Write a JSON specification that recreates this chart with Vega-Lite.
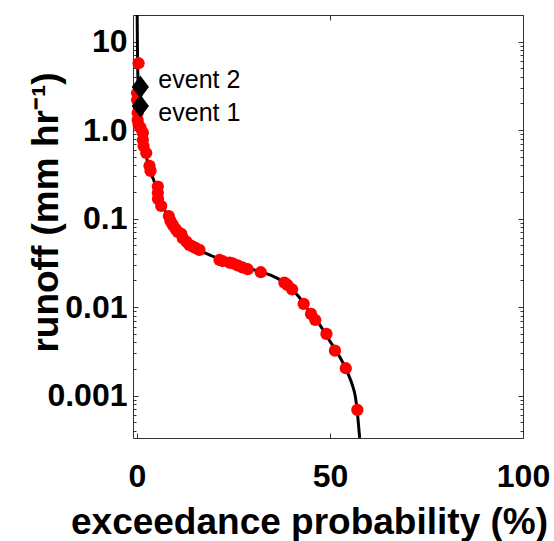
{
  "$schema": "https://vega.github.io/schema/vega-lite/v6.json",
  "autosize": "none",
  "width": 390,
  "height": 423,
  "padding": {"left": 133, "top": 15, "right": 31, "bottom": 103},
  "background": "white",
  "config": {
    "view": {"stroke": "#333", "strokeWidth": 1},
    "axis": {
      "domain": false, "grid": false,
      "labelFont": "Liberation Sans", "labelFontWeight": "bold", "labelFontSize": 32, "labelColor": "black",
      "titleFont": "Liberation Sans", "titleFontWeight": "bold", "titleFontSize": 37, "titleColor": "black",
      "tickColor": "#333", "tickWidth": 1
    }
  },
  "datasets": {
    "curve": [
      {"prob": 0.08, "runoff": 20},
      {"prob": 0.13, "runoff": 10.4},
      {"prob": 0.23, "runoff": 4.79},
      {"prob": 0.44, "runoff": 2.19},
      {"prob": 0.83, "runoff": 1.30},
      {"prob": 1.34, "runoff": 0.883},
      {"prob": 1.99, "runoff": 0.597},
      {"prob": 2.9, "runoff": 0.426},
      {"prob": 3.8, "runoff": 0.312},
      {"prob": 4.4, "runoff": 0.27},
      {"prob": 5.6, "runoff": 0.185},
      {"prob": 6.9, "runoff": 0.132},
      {"prob": 8.45, "runoff": 0.102},
      {"prob": 10.5, "runoff": 0.0745},
      {"prob": 13.1, "runoff": 0.056},
      {"prob": 16.2, "runoff": 0.0443},
      {"prob": 18.8, "runoff": 0.0389},
      {"prob": 22.7, "runoff": 0.0333},
      {"prob": 27.8, "runoff": 0.0284},
      {"prob": 32.2, "runoff": 0.0250},
      {"prob": 34.8, "runoff": 0.0228},
      {"prob": 36.9, "runoff": 0.0206},
      {"prob": 39.5, "runoff": 0.0169},
      {"prob": 42.0, "runoff": 0.0130},
      {"prob": 44.6, "runoff": 0.00906},
      {"prob": 47.2, "runoff": 0.00646},
      {"prob": 49.8, "runoff": 0.00426},
      {"prob": 52.4, "runoff": 0.00281},
      {"prob": 54.5, "runoff": 0.00185},
      {"prob": 55.8, "runoff": 0.00132},
      {"prob": 56.6, "runoff": 0.000966},
      {"prob": 57.1, "runoff": 0.000653},
      {"prob": 57.4, "runoff": 0.000467},
      {"prob": 57.7, "runoff": 0.000333}
    ],
    "obs": [
      {"prob": 0.44, "runoff": 5.70},
      {"prob": 0.05, "runoff": 2.63},
      {"prob": 0.05, "runoff": 2.19},
      {"prob": 0.2, "runoff": 1.56},
      {"prob": 0.2, "runoff": 1.30},
      {"prob": 0.44, "runoff": 1.15},
      {"prob": 0.96, "runoff": 1.06},
      {"prob": 1.55, "runoff": 0.93},
      {"prob": 1.55, "runoff": 0.774},
      {"prob": 1.73, "runoff": 0.662},
      {"prob": 2.43, "runoff": 0.552},
      {"prob": 3.28, "runoff": 0.394},
      {"prob": 3.54, "runoff": 0.346},
      {"prob": 5.43, "runoff": 0.230},
      {"prob": 5.43, "runoff": 0.195},
      {"prob": 5.48, "runoff": 0.167},
      {"prob": 6.3, "runoff": 0.139},
      {"prob": 8.27, "runoff": 0.107},
      {"prob": 8.7, "runoff": 0.0942},
      {"prob": 9.3, "runoff": 0.0849},
      {"prob": 10.0, "runoff": 0.0765},
      {"prob": 10.6, "runoff": 0.0708},
      {"prob": 11.5, "runoff": 0.0672},
      {"prob": 11.9, "runoff": 0.0601},
      {"prob": 12.8, "runoff": 0.0550},
      {"prob": 13.6, "runoff": 0.0505},
      {"prob": 14.5, "runoff": 0.0483},
      {"prob": 15.3, "runoff": 0.0463},
      {"prob": 16.2, "runoff": 0.0443},
      {"prob": 21.4, "runoff": 0.0341},
      {"prob": 22.2, "runoff": 0.0332},
      {"prob": 24.0, "runoff": 0.0318},
      {"prob": 24.8, "runoff": 0.0313},
      {"prob": 26.1, "runoff": 0.0296},
      {"prob": 27.3, "runoff": 0.0281},
      {"prob": 28.7, "runoff": 0.0268},
      {"prob": 32.1, "runoff": 0.0248},
      {"prob": 38.2, "runoff": 0.0189},
      {"prob": 39.0, "runoff": 0.0178},
      {"prob": 40.2, "runoff": 0.0159},
      {"prob": 43.2, "runoff": 0.0109},
      {"prob": 45.1, "runoff": 0.00838},
      {"prob": 46.2, "runoff": 0.00716},
      {"prob": 49.1, "runoff": 0.00498},
      {"prob": 51.3, "runoff": 0.00322},
      {"prob": 54.1, "runoff": 0.00204},
      {"prob": 57.1, "runoff": 0.000689}
    ],
    "events": [
      {"event": "event 2", "prob": 0.9, "runoff": 3.07},
      {"event": "event 1", "prob": 0.9, "runoff": 1.87}
    ]
  },
  "encoding": {
    "x": {"field": "prob", "type": "quantitative", "scale": {"domain": [-1, 100], "nice": false, "zero": false}},
    "y": {"field": "runoff", "type": "quantitative", "scale": {"type": "log", "domain": [0.000332, 20], "nice": false}}
  },
  "resolve": {"axis": {"x": "independent", "y": "independent"}},
  "layer": [
    {
      "data": {"name": "curve"},
      "mark": {"type": "line", "color": "black", "strokeWidth": 3, "interpolate": "monotone", "clip": true},
      "encoding": {
        "x": {"field": "prob", "type": "quantitative", "axis": {"orient": "bottom", "values": [0, 50, 100], "tickSize": -5, "labelPadding": 28, "labelFlush": false, "labelOverlap": false, "title": "exceedance probability (%)", "titleX": 176, "titleY": 95, "titleBaseline": "alphabetic", "titleAlign": "center"}},
        "y": {"field": "runoff", "type": "quantitative", "axis": {"orient": "left", "values": [0.001, 0.01, 0.1, 1, 10], "tickSize": -5, "labelPadding": 11, "labelOverlap": false, "labelFlush": false, "labelExpr": "datum.value > 5 ? '10' : datum.value > 0.5 ? '1.0' : datum.value > 0.05 ? '0.1' : datum.value > 0.005 ? '0.01' : '0.001'", "title": "runoff (mm hr⁻¹)", "titleX": -76, "titleY": 197, "titleAngle": -90, "titleBaseline": "alphabetic", "titleAlign": "center"}}
      }
    },
    {
      "data": {"name": "obs"},
      "mark": {"type": "point", "shape": "circle", "filled": true, "color": "#ff0000", "opacity": 1, "size": 150},
      "encoding": {
        "x": {"field": "prob", "type": "quantitative", "axis": {"orient": "top", "values": [0, 50, 100], "tickSize": -5, "labels": false, "title": null}},
        "y": {"field": "runoff", "type": "quantitative", "axis": {"orient": "left", "values": [0.0004, 0.0005, 0.0006, 0.0007, 0.0008, 0.0009, 0.002, 0.003, 0.004, 0.005, 0.006, 0.007, 0.008, 0.009, 0.02, 0.03, 0.04, 0.05, 0.06, 0.07, 0.08, 0.09, 0.2, 0.3, 0.4, 0.5, 0.6, 0.7, 0.8, 0.9, 2, 3, 4, 5, 6, 7, 8, 9, 20], "tickSize": -3, "labels": false, "title": null}}
      }
    },
    {
      "data": {"name": "events"},
      "mark": {"type": "point", "shape": "M-0.75,0L0,-1L0.75,0L0,1Z", "filled": true, "color": "black", "opacity": 1, "size": 530},
      "encoding": {
        "x": {"field": "prob", "type": "quantitative", "axis": null},
        "y": {"field": "runoff", "type": "quantitative", "axis": {"orient": "right", "values": [0.001, 0.01, 0.1, 1, 10], "tickSize": -5, "labels": false, "title": null}}
      }
    },
    {
      "data": {"name": "events"},
      "transform": [{"filter": "datum.event == 'event 2'"}],
      "mark": {"type": "text", "align": "left", "baseline": "middle", "dx": 18, "dy": -7, "font": "Liberation Sans", "fontSize": 25, "color": "black"},
      "encoding": {
        "x": {"field": "prob", "type": "quantitative", "axis": null},
        "y": {"field": "runoff", "type": "quantitative", "axis": {"orient": "right", "values": [0.0004, 0.0005, 0.0006, 0.0007, 0.0008, 0.0009, 0.002, 0.003, 0.004, 0.005, 0.006, 0.007, 0.008, 0.009, 0.02, 0.03, 0.04, 0.05, 0.06, 0.07, 0.08, 0.09, 0.2, 0.3, 0.4, 0.5, 0.6, 0.7, 0.8, 0.9, 2, 3, 4, 5, 6, 7, 8, 9, 20], "tickSize": -3, "labels": false, "title": null}},
        "text": {"field": "event"}
      }
    },
    {
      "data": {"name": "events"},
      "transform": [{"filter": "datum.event == 'event 1'"}],
      "mark": {"type": "text", "align": "left", "baseline": "middle", "dx": 18, "dy": 7, "font": "Liberation Sans", "fontSize": 25, "color": "black"},
      "encoding": {
        "x": {"field": "prob", "type": "quantitative", "axis": null},
        "y": {"field": "runoff", "type": "quantitative", "axis": null},
        "text": {"field": "event"}
      }
    }
  ]
}
